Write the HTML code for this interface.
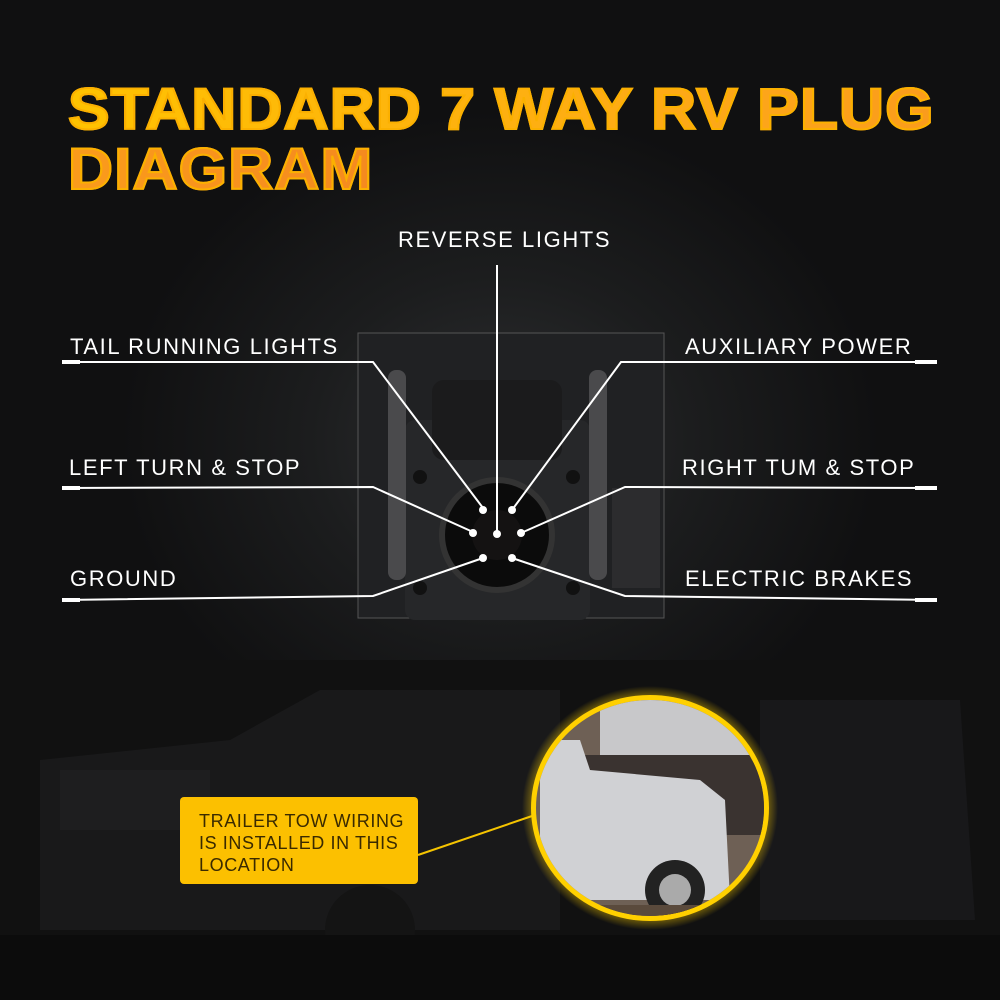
<!DOCTYPE html>
<html><head><meta charset="utf-8"><style>
html,body{margin:0;padding:0}
body{width:1000px;height:1000px;position:relative;overflow:hidden;background:#0c0c0d;font-family:"Liberation Sans",sans-serif}
.bg{position:absolute;inset:0;background:radial-gradient(ellipse 380px 330px at 500px 440px,#2e2f31 0%,#1c1d1e 50%,#101011 100%)}
.title{position:absolute;left:68px;top:80px;font-weight:900;font-size:58px;line-height:60px;letter-spacing:1px;transform:scaleX(1.075);transform-origin:0 0;-webkit-text-stroke:2px #fbb000;white-space:nowrap}
.title span{background:linear-gradient(90deg,#ffc300 0%,#fda51a 60%,#f58a1f 100%);-webkit-background-clip:text;background-clip:text;color:transparent}
.lbl{position:absolute;color:#fff;font-size:22px;letter-spacing:1.6px;white-space:nowrap}
.box{position:absolute;left:180px;top:797px;width:238px;height:87px;background:#fcc000;border-radius:4px;color:#3a2a00;font-size:18px;line-height:22px;letter-spacing:.6px;padding:13px 0 0 19px;box-sizing:border-box;white-space:nowrap}
</style></head><body>
<div class="bg"></div>
<svg width="1000" height="1000" style="position:absolute;left:0;top:0">
<defs>
<radialGradient id="g" cx="0.5" cy="0.5" r="0.5"><stop offset="0.85" stop-color="#ffd000"/><stop offset="1" stop-color="#ffd000" stop-opacity="0"/></radialGradient>
</defs>
<rect x="0" y="660" width="1000" height="340" fill="#111"/>
<path d="M40 760 L230 740 L320 690 L560 690 L560 930 L40 930 Z" fill="#19191a"/>
<path d="M760 700 L960 700 L975 920 L760 920Z" fill="#18181a"/>
<rect x="60" y="770" width="150" height="60" fill="#1e1e1f"/>
<circle cx="370" cy="930" r="45" fill="#141414"/>
<rect x="0" y="935" width="1000" height="65" fill="#0c0c0c"/>
<rect x="358" y="333" width="306" height="285" fill="#202123" stroke="#555" stroke-width="1"/>
<rect x="405" y="420" width="185" height="200" rx="10" fill="#262729"/>
<rect x="432" y="380" width="130" height="80" rx="12" fill="#1b1b1c"/>
<circle cx="497" cy="535" r="55" fill="#0b0b0b" stroke="#333" stroke-width="6"/>
<circle cx="497" cy="535" r="25" fill="#141212"/>
<rect x="388" y="370" width="18" height="210" rx="8" fill="#4a4a4c"/>
<rect x="589" y="370" width="18" height="210" rx="8" fill="#4a4a4c"/>
<rect x="612" y="488" width="48" height="100" fill="#2c2c2e"/>
<circle cx="420" cy="477" r="7" fill="#111"/><circle cx="573" cy="477" r="7" fill="#111"/>
<circle cx="420" cy="588" r="7" fill="#111"/><circle cx="573" cy="588" r="7" fill="#111"/>
<g stroke="#fff" stroke-width="2" fill="none">
<line x1="497" y1="265" x2="497" y2="533"/>
<polyline points="62,362 373,362 483,508"/>
<polyline points="937,362 621,362 512,510"/>
<polyline points="62,488 373,487 473,532"/>
<polyline points="937,488 625,487 521,533"/>
<polyline points="62,600 373,596 483,558"/>
<polyline points="937,600 625,596 512,558"/>
</g>
<g stroke="#fff" stroke-width="4">
<line x1="62" y1="362" x2="80" y2="362"/><line x1="915" y1="362" x2="937" y2="362"/>
<line x1="62" y1="488" x2="80" y2="488"/><line x1="915" y1="488" x2="937" y2="488"/>
<line x1="62" y1="600" x2="80" y2="600"/><line x1="915" y1="600" x2="937" y2="600"/>
</g>
<g fill="#fff"><circle cx="483" cy="510" r="4"/><circle cx="512" cy="510" r="4"/><circle cx="473" cy="533" r="4"/><circle cx="521" cy="533" r="4"/><circle cx="497" cy="534" r="4"/><circle cx="483" cy="558" r="4"/><circle cx="512" cy="558" r="4"/></g>
<line x1="418" y1="855" x2="535" y2="815" stroke="#f5c400" stroke-width="2"/>
<ellipse cx="650" cy="808" rx="128" ry="122" fill="url(#g)" opacity="0.7"/>
<ellipse cx="650" cy="808" rx="119" ry="113" fill="#ffd000"/>
<clipPath id="c"><ellipse cx="650" cy="808" rx="114" ry="108"/></clipPath>
<g clip-path="url(#c)">
<rect x="530" y="690" width="240" height="240" fill="#6e6055"/>
<rect x="600" y="690" width="170" height="70" fill="#c8c8ca"/>
<rect x="580" y="755" width="190" height="80" fill="#3a3330"/>
<path d="M540 740 L580 740 L590 770 L700 780 L725 800 L730 900 L540 900 Z" fill="#d0d1d4"/>
<circle cx="675" cy="890" r="30" fill="#222"/><circle cx="675" cy="890" r="16" fill="#aaa"/>
<rect x="530" y="905" width="240" height="30" fill="#5a4a3c"/>
</g>
</svg>
<div class="title"><span>STANDARD 7 WAY RV PLUG<br>DIAGRAM</span></div>
<div class="lbl" style="left:398px;top:227px">REVERSE LIGHTS</div>
<div class="lbl" style="left:70px;top:334px">TAIL RUNNING LIGHTS</div>
<div class="lbl" style="left:685px;top:334px">AUXILIARY POWER</div>
<div class="lbl" style="left:69px;top:455px">LEFT TURN &amp; STOP</div>
<div class="lbl" style="left:682px;top:455px">RIGHT TUM &amp; STOP</div>
<div class="lbl" style="left:70px;top:566px">GROUND</div>
<div class="lbl" style="left:685px;top:566px">ELECTRIC BRAKES</div>
<div class="box">TRAILER TOW WIRING<br>IS INSTALLED IN THIS<br>LOCATION</div>
</body></html>
